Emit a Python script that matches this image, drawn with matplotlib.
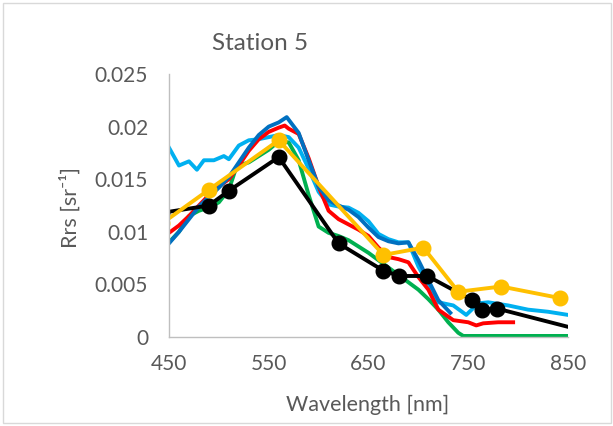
import numpy as np
import matplotlib.pyplot as plt
from matplotlib.patches import Rectangle

# hyperspectral series (nm, Rrs)
wl_green = [450, 460, 470, 480, 490, 500, 510, 517, 520, 530, 540, 550, 560, 570, 580, 590, 600,
            610, 620, 630, 640, 650, 660, 670, 680, 690, 700, 710, 720, 730, 740, 745, 760, 780, 800, 850]
rrs_green = [0.0090, 0.0100, 0.0115, 0.0120, 0.0123, 0.0128, 0.0140, 0.0160, 0.0163, 0.0166, 0.0172,
             0.0178, 0.0186, 0.0185, 0.0168, 0.0135, 0.0105, 0.0099, 0.0096, 0.0092, 0.0086, 0.0080,
             0.0073, 0.0066, 0.0059, 0.0052, 0.0045, 0.0036, 0.0026, 0.0014, 0.0004, 0.0001, 0.0001,
             0.0001, 0.0001, 0.0001]

wl_lblue = [450, 460, 470, 478, 485, 495, 505, 510, 520, 530, 540, 550, 560, 570, 580, 590, 600, 610,
            620, 630, 640, 650, 660, 670, 680, 690, 700, 710, 720, 735, 748, 760, 770, 790, 810, 830, 850]
rrs_lblue = [0.0180, 0.0163, 0.0167, 0.0159, 0.0168, 0.0168, 0.0172, 0.0169, 0.0182, 0.0187, 0.0188,
             0.0190, 0.0192, 0.0190, 0.0180, 0.0160, 0.0138, 0.0126, 0.0124, 0.0123, 0.0118, 0.0110,
             0.0098, 0.0093, 0.0090, 0.0090, 0.0067, 0.0050, 0.0033, 0.0030, 0.0021, 0.0032, 0.0033,
             0.0030, 0.0026, 0.0024, 0.0021]

wl_red = [450, 460, 470, 480, 490, 500, 510, 520, 530, 540, 550, 560, 566, 570, 580, 590, 600, 610,
          620, 630, 640, 650, 660, 670, 680, 690, 700, 710, 720, 735, 750, 758, 765, 780, 795]
rrs_red = [0.0099, 0.0106, 0.0115, 0.0125, 0.0135, 0.0143, 0.0150, 0.0163, 0.0177, 0.0188, 0.0195,
           0.0199, 0.0201, 0.0198, 0.0193, 0.0170, 0.0143, 0.0120, 0.0112, 0.0107, 0.0102, 0.0096,
           0.0085, 0.0076, 0.0074, 0.0071, 0.0057, 0.0045, 0.0026, 0.0016, 0.0014, 0.0011, 0.0013,
           0.0014, 0.0014]

wl_dblue = [450, 460, 470, 480, 490, 500, 510, 520, 530, 540, 550, 560, 568, 580, 590, 600, 610, 620,
            630, 640, 650, 660, 670, 680, 690, 700, 710, 720, 732]
rrs_dblue = [0.0089, 0.0100, 0.0112, 0.0124, 0.0133, 0.0142, 0.0152, 0.0166, 0.0180, 0.0192, 0.0200,
             0.0204, 0.0209, 0.0194, 0.0168, 0.0143, 0.0130, 0.0125, 0.0121, 0.0114, 0.0104, 0.0095,
             0.0091, 0.0089, 0.0090, 0.0073, 0.0054, 0.0035, 0.0023]

# band-averaged series
wl_olci = [443, 490, 510, 560, 620, 665, 681, 709, 754, 764, 779, 865]
rrs_olci = [0.0118, 0.0125, 0.0139, 0.0171, 0.0089, 0.0063, 0.0058, 0.0058, 0.0035, 0.0026, 0.0027, 0.0006]

wl_msi = [443, 490, 560, 665, 705, 740, 783, 842, 865]
rrs_msi = [0.0108, 0.0140, 0.0187, 0.0078, 0.0085, 0.0043, 0.0048, 0.0037, 0.0035]

xticks = [450, 550, 650, 750, 850]
yticks = [0, 0.005, 0.01, 0.015, 0.02, 0.025]
ytick_labels = ['0', '0.005', '0.01', '0.015', '0.02', '0.025']

plt.rcParams['font.family'] = ['Lato', 'DejaVu Sans']
grey = '#595959'

fig = plt.figure(figsize=(6.13, 4.26), dpi=100)
ax = fig.add_axes([169 / 613, 89 / 426, 399 / 613, 263 / 426])

lw = 2.8
ax.plot(wl_green, rrs_green, color='#00B050', lw=lw)
ax.plot(wl_lblue, rrs_lblue, color='#00B0F0', lw=lw)
ax.plot(wl_red, rrs_red, color='#FF0000', lw=lw)
ax.plot(wl_dblue, rrs_dblue, color='#0070C0', lw=lw)
ax.plot(wl_olci, rrs_olci, color='black', lw=lw, marker='o', ms=10.5)
ax.plot(wl_msi, rrs_msi, color='#FFC000', lw=lw, marker='o', ms=10.5)

ax.set_xlim(450, 850)
ax.set_ylim(0, 0.025)
ax.set_xticks(xticks)
ax.set_yticks(yticks)
ax.set_yticklabels(ytick_labels)
ax.tick_params(length=0, labelsize=15, colors=grey)
ax.tick_params(axis='y', pad=15)
ax.tick_params(axis='x', pad=12)

for s in ['top', 'right']:
    ax.spines[s].set_visible(False)
for s in ['left', 'bottom']:
    ax.spines[s].set_color('#BFBFBF')
    ax.spines[s].set_linewidth(1)

fig.text(260 / 613, 1 - 44 / 426, 'Station 5', ha='center', va='center', fontsize=17.5, color=grey)
fig.text(368 / 613, 1 - 405 / 426, 'Wavelength [nm]', ha='center', va='center', fontsize=15.5, color=grey)
fig.text(70 / 613, 1 - 207 / 426, 'Rrs [sr\u207b\u00b9]', ha='center', va='center', rotation=90,
         fontsize=15.5, color=grey)

fig.patches.append(Rectangle((3 / 613, 3 / 426), 608 / 613, 420 / 426, transform=fig.transFigure,
                             fill=False, edgecolor='#D9D9D9', lw=1))

fig.savefig('out.png', dpi=100)
